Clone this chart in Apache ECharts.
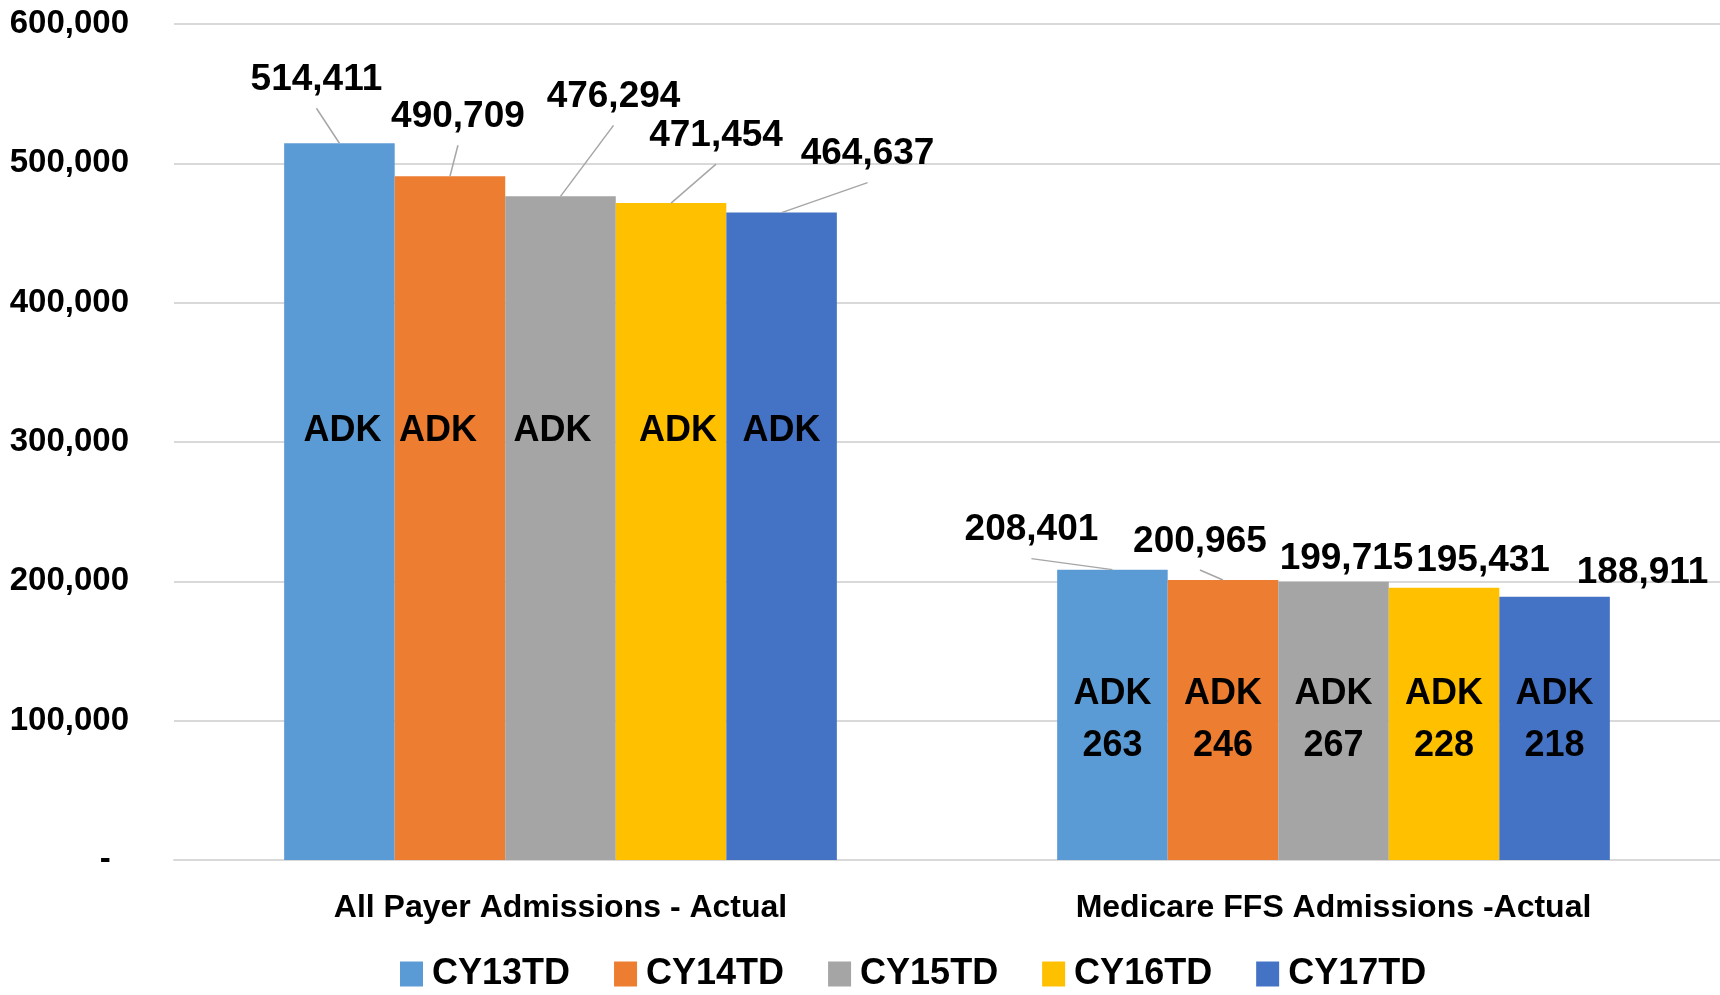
<!DOCTYPE html>
<html>
<head>
<meta charset="utf-8">
<script src="https://cdn.jsdelivr.net/npm/echarts@6/dist/echarts.min.js"></script>
<style>
  html, body { margin: 0; padding: 0; background: #fff; }
  #chart { width: 1720px; height: 995px; }
</style>
</head>
<body>
<div id="chart"></div>
<script>
// data
const categories = ['All Payer Admissions - Actual', 'Medicare FFS Admissions -Actual'];
const seriesNames = ['CY13TD', 'CY14TD', 'CY15TD', 'CY16TD', 'CY17TD'];
const cy13 = [514411, 208401];
const cy14 = [490709, 200965];
const cy15 = [476294, 199715];
const cy16 = [471454, 195431];
const cy17 = [464637, 188911];
const adkMedicare = [263, 246, 267, 228, 218];
const yTicks = [0, 100000, 200000, 300000, 400000, 500000, 600000];

// layout / style
const colors = ['#5B9BD5', '#ED7D31', '#A5A5A5', '#FFC000', '#4472C4'];
const font = "'Liberation Sans', Arial, sans-serif";
const gapRatio = 0.285;
const valueFont = 37;
const labelDist = 5;
// value label offsets [category][series] -> [dx, dy]
const labelShift = [
  [[-23, -40], [8, -36], [53, -76], [45, -44], [86, -35]],
  [[-81, -16], [-23, -15], [13, 1], [39, -3], [88, 0]]
];
const adkDistance = [403, 88];
const adkShiftAll = [3, -12, -8, 7, 0];

const values = [cy13, cy14, cy15, cy16, cy17];
const fmt = v => v.toLocaleString('en-US');

const chart = echarts.init(document.getElementById('chart'));

const mainSeries = values.map((vals, s) => ({
  name: seriesNames[s],
  type: 'bar',
  xAxisIndex: 0,
  barGap: '0%',
  barCategoryGap: (gapRatio * 100) + '%',
  data: vals,
  itemStyle: { color: colors[s] },
  label: {
    show: true,
    position: 'top',
    distance: labelDist,
    formatter: p => fmt(p.value),
    color: '#000',
    fontFamily: font,
    fontWeight: 'bold',
    fontSize: valueFont
  },
  labelLayout: p => ({ dx: labelShift[p.dataIndex][s][0], dy: labelShift[p.dataIndex][s][1] }),
  emphasis: { disabled: true }
}));

const adkSeries = values.map((vals, s) => ({
  type: 'bar',
  xAxisIndex: 1,
  barGap: '0%',
  barCategoryGap: (gapRatio * 100) + '%',
  silent: true,
  z: 5,
  data: vals.map((v, c) => ({
    value: v,
    label: {
      distance: adkDistance[c],
      offset: [c === 0 ? adkShiftAll[s] : 0, 0],
      formatter: c === 0 ? 'ADK' : 'ADK\n' + adkMedicare[s]
    }
  })),
  itemStyle: { color: 'rgba(0,0,0,0)' },
  label: {
    show: true,
    position: 'insideBottom',
    color: '#000',
    fontFamily: font,
    fontWeight: 'bold',
    fontSize: 36,
    lineHeight: 52
  },
  emphasis: { disabled: true }
}));

// leader lines: bar top centre -> just under the moved label
const leaderData = [];
categories.forEach((cat, c) => values.forEach((vals, s) => leaderData.push([c, vals[c], s])));

const leaderSeries = {
  type: 'custom',
  xAxisIndex: 0,
  silent: true,
  z: 4,
  data: leaderData,
  renderItem: (params, api) => {
    const c = api.value(0), v = api.value(1), s = api.value(2);
    const n = values.length;
    const band = api.size([1, 0])[0];
    const barW = band * (1 - gapRatio) / n;
    const top = api.coord([c, v]);
    const x0 = top[0] + (s - (n - 1) / 2) * barW;
    const y0 = top[1];
    const sh = labelShift[c][s];
    const x1 = x0 + sh[0];
    const y1 = y0 - labelDist + sh[1] + 10;
    if (y0 - y1 < 8) return null;
    return {
      type: 'line',
      shape: { x1: x0, y1: y0, x2: x1, y2: y1 },
      style: { stroke: '#a6a6a6', lineWidth: 1.5 }
    };
  }
};

chart.setOption({
  animation: false,
  color: colors,
  textStyle: { fontFamily: font },
  grid: { left: 174, right: 0, top: 24, bottom: 135 },
  legend: {
    data: seriesNames,
    top: 951,
    left: 395,
    itemWidth: 23,
    itemHeight: 25,
    itemGap: 44,
    icon: 'rect',
    textStyle: { color: '#000', fontFamily: font, fontWeight: 'bold', fontSize: 36, padding: [0, 0, 0, 4] }
  },
  xAxis: [
    {
      type: 'category',
      data: categories,
      axisLine: { lineStyle: { color: '#d9d9d9', width: 2 } },
      axisTick: { show: false },
      axisLabel: { color: '#000', fontFamily: font, fontWeight: 'bold', fontSize: 32, margin: 32 }
    },
    { type: 'category', data: categories, show: false }
  ],
  yAxis: {
    type: 'value',
    min: yTicks[0],
    max: yTicks[yTicks.length - 1],
    interval: yTicks[1] - yTicks[0],
    axisLine: { show: false },
    axisTick: { show: false },
    splitLine: { lineStyle: { color: '#d9d9d9', width: 2 } },
    axisLabel: {
      color: '#000',
      fontFamily: font,
      fontWeight: 'bold',
      fontSize: 33,
      margin: 45,
      formatter: v => (v === 0 ? '-  ' : fmt(v))
    }
  },
  series: mainSeries.concat(adkSeries, [leaderSeries])
});
</script>
</body>
</html>
